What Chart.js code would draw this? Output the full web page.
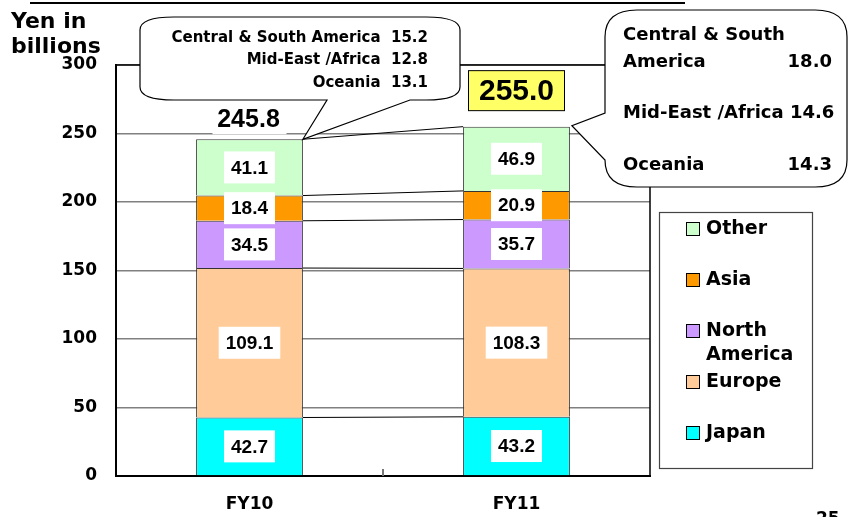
<!DOCTYPE html>
<html>
<head>
<meta charset="utf-8">
<script src="https://cdn.jsdelivr.net/npm/chart.js@4.4.1/dist/chart.umd.min.js"></script>
<style>
  html, body { margin: 0; padding: 0; background: #fff; }
  canvas { display: block; }
</style>
</head>
<body>
<canvas id="salesChart" width="848" height="517"></canvas>
<script>
// values, yen in billions
const years = ["FY10", "FY11"];
const japan = [42.7, 43.2];
const europe = [109.1, 108.3];
const northAmerica = [34.5, 35.7];
const asia = [18.4, 20.9];
const other = [41.1, 46.9];

const otherRegions = ["Central & South America", "Mid-East /Africa", "Oceania"];
const otherFY10 = [15.2, 12.8, 13.1];
const otherFY11 = [18.0, 14.6, 14.3];

const yMin = 0;
const yMax = 300;
const yStep = 50;

const WIDE = '"DejaVu Sans", Verdana, sans-serif';
const NUM = '"Liberation Sans", Arial, sans-serif';

const series = [
  { label: "Japan", data: japan, color: "#00FFFF" },
  { label: "Europe", data: europe, color: "#FFCC99" },
  { label: "North America", data: northAmerica, color: "#CC99FF" },
  { label: "Asia", data: asia, color: "#FF9900" },
  { label: "Other", data: other, color: "#CCFFCC" },
];

function text(ctx, s, x, y, size, align, family, baseline) {
  ctx.save();
  ctx.font = "bold " + size + "px " + (family || WIDE);
  ctx.textAlign = align || "left";
  ctx.textBaseline = baseline || "middle";
  ctx.fillStyle = "#000";
  ctx.fillText(s, x, y);
  ctx.restore();
}

function textWidth(ctx, s, size, family) {
  ctx.save();
  ctx.font = "bold " + size + "px " + (family || WIDE);
  const w = ctx.measureText(s).width;
  ctx.restore();
  return w;
}

function calloutPath(ctx, x1, y1, x2, y2, rx, ry, ptr) {
  ctx.beginPath();
  ctx.moveTo(x1 + rx, y1);
  ctx.lineTo(x2 - rx, y1);
  ctx.quadraticCurveTo(x2, y1, x2, y1 + ry);
  ctx.lineTo(x2, y2 - ry);
  ctx.quadraticCurveTo(x2, y2, x2 - rx, y2);
  if (ptr.side === "bottom") {
    ctx.lineTo(ptr.b, y2);
    ctx.lineTo(ptr.tx, ptr.ty);
    ctx.lineTo(ptr.a, y2);
  }
  ctx.lineTo(x1 + rx, y2);
  ctx.quadraticCurveTo(x1, y2, x1, y2 - ry);
  if (ptr.side === "left") {
    ctx.lineTo(x1, ptr.b);
    ctx.lineTo(ptr.tx, ptr.ty);
    ctx.lineTo(x1, ptr.a);
  }
  ctx.lineTo(x1, y1 + ry);
  ctx.quadraticCurveTo(x1, y1, x1 + rx, y1);
  ctx.closePath();
  ctx.fillStyle = "#fff";
  ctx.fill();
  ctx.strokeStyle = "#000";
  ctx.lineWidth = 1.2;
  ctx.stroke();
}

const slidePlugin = {
  id: "slide",
  afterDraw(chart) {
    const ctx = chart.ctx;
    const area = chart.chartArea;
    const xs = chart.scales.x;

    ctx.save();
    // top and right frame of the plot
    ctx.strokeStyle = "#000";
    ctx.lineWidth = 1.5;
    ctx.beginPath();
    ctx.moveTo(area.left, area.top);
    ctx.lineTo(area.right, area.top);
    ctx.lineTo(area.right, area.bottom);
    ctx.stroke();

    // small tick between the two categories
    const mid = (xs.getPixelForValue(0) + xs.getPixelForValue(1)) / 2;
    ctx.strokeStyle = "#777";
    ctx.lineWidth = 2;
    ctx.beginPath();
    ctx.moveTo(mid, area.bottom);
    ctx.lineTo(mid, area.bottom - 7);
    ctx.stroke();

    // connector lines between segment tops
    const m0 = chart.getDatasetMeta(0);
    const xRight0 = m0.data[0].x + m0.data[0].width / 2;
    const xLeft1 = m0.data[1].x - m0.data[1].width / 2;
    ctx.strokeStyle = "#000";
    ctx.lineWidth = 1;
    chart.data.datasets.forEach((ds, i) => {
      const meta = chart.getDatasetMeta(i);
      ctx.beginPath();
      ctx.moveTo(xRight0, meta.data[0].y);
      ctx.lineTo(xLeft1, meta.data[1].y);
      ctx.stroke();
    });

    // value labels in white boxes
    chart.data.datasets.forEach((ds, i) => {
      const meta = chart.getDatasetMeta(i);
      meta.data.forEach((el, j) => {
        const s = ds.data[j].toFixed(1);
        const cy = (el.y + el.base) / 2;
        const w = textWidth(ctx, s, 19, NUM) + 14;
        ctx.fillStyle = "#fff";
        ctx.fillRect(el.x - w / 2, cy - 16, w, 32);
        text(ctx, s, el.x, cy + 1, 19, "center", NUM);
      });
    });

    // totals
    const last = chart.getDatasetMeta(chart.data.datasets.length - 1);
    const totals = years.map((y, j) =>
      series.reduce((sum, s) => sum + s.data[j], 0)
    );
    const t0 = last.data[0];
    ctx.fillStyle = "#fff";
    ctx.fillRect(t0.x - 37, t0.y - 33, 74, 28);
    text(ctx, totals[0].toFixed(1), t0.x - 1, t0.y - 19, 25, "center", NUM);

    const t1 = last.data[1];
    ctx.fillStyle = "#FFFF66";
    ctx.fillRect(t1.x - 48, t1.y - 56, 96, 40);
    ctx.strokeStyle = "#000";
    ctx.lineWidth = 1;
    ctx.strokeRect(t1.x - 48, t1.y - 56, 96, 40);
    text(ctx, totals[1].toFixed(1), t1.x, t1.y - 35, 30, "center", NUM);

    // callout for FY10 "Other"
    calloutPath(ctx, 140, 17, 460, 100, 34, 13, {
      side: "bottom", a: 327, b: 410, tx: xRight0, ty: t0.y,
    });
    otherRegions.forEach((r, k) => {
      text(ctx, r + "  " + otherFY10[k].toFixed(1), 428, 38 + k * 22.5, 15, "right");
    });

    // callout for FY11 "Other"
    const xRight1 = t1.x + t1.width / 2;
    calloutPath(ctx, 605, 10, 847, 187, 32, 27, {
      side: "left", a: 113, b: 160, tx: xRight1 + 2, ty: t1.y - 1,
    });
    text(ctx, "Central & South", 623, 35, 18, "left");
    text(ctx, "America", 623, 62, 18, "left");
    text(ctx, otherFY11[0].toFixed(1), 832, 62, 18, "right");
    text(ctx, otherRegions[1] + " " + otherFY11[1].toFixed(1), 623, 113, 18, "left");
    text(ctx, otherRegions[2], 623, 165, 18, "left");
    text(ctx, otherFY11[2].toFixed(1), 832, 165, 18, "right");

    // legend box
    ctx.strokeStyle = "#444";
    ctx.lineWidth = 1.2;
    ctx.strokeRect(659.5, 212.5, 153, 256);
    const legendRows = [
      { s: series[4], lines: ["Other"], y: 229 },
      { s: series[3], lines: ["Asia"], y: 280 },
      { s: series[2], lines: ["North", "America"], y: 331 },
      { s: series[1], lines: ["Europe"], y: 382 },
      { s: series[0], lines: ["Japan"], y: 433 },
    ];
    legendRows.forEach((row) => {
      ctx.fillStyle = row.s.color;
      ctx.fillRect(686, row.y - 7, 14, 14);
      ctx.strokeStyle = "#000";
      ctx.lineWidth = 1;
      ctx.strokeRect(686.5, row.y - 6.5, 13, 13);
      row.lines.forEach((l, k) => {
        text(ctx, l, 706, row.y + k * 24, 19, "left");
      });
    });

    // axis title, header rule, page number
    text(ctx, "Yen in", 11, 28, 22, "left", WIDE, "alphabetic");
    text(ctx, "billions", 11, 53, 22, "left", WIDE, "alphabetic");
    ctx.strokeStyle = "#000";
    ctx.lineWidth = 2;
    ctx.beginPath();
    ctx.moveTo(30, 3);
    ctx.lineTo(685, 3);
    ctx.stroke();
    text(ctx, "25", 816, 511, 17, "left", WIDE, "top");
    ctx.restore();
  },
};

const ctx = document.getElementById("salesChart").getContext("2d");
new Chart(ctx, {
  type: "bar",
  data: {
    labels: years,
    datasets: series.map((s) => ({
      label: s.label,
      data: s.data,
      backgroundColor: s.color,
      borderColor: "#333",
      borderWidth: 1,
      barPercentage: 1,
      categoryPercentage: 0.4,
    })),
  },
  options: {
    responsive: false,
    animation: false,
    devicePixelRatio: 1,
    layout: { padding: { left: 0, right: 198, top: 65, bottom: 0 } },
    plugins: {
      legend: { display: false },
      tooltip: { enabled: false },
    },
    scales: {
      x: {
        stacked: true,
        grid: { display: false, drawTicks: false },
        border: { display: true, color: "#000", width: 2 },
        ticks: {
          color: "#000",
          padding: 18,
          font: { family: WIDE, size: 17, weight: "bold" },
        },
        afterFit: (scale) => { scale.height = 41; },
      },
      y: {
        stacked: true,
        min: yMin,
        max: yMax,
        ticks: {
          stepSize: yStep,
          color: "#000",
          padding: 19,
          font: { family: WIDE, size: 17, weight: "bold" },
        },
        grid: { color: "#808080", lineWidth: 1.5, drawTicks: false },
        border: { display: true, color: "#000", width: 2 },
        afterFit: (scale) => { scale.width = 116; },
      },
    },
  },
  plugins: [slidePlugin],
});
</script>
</body>
</html>
